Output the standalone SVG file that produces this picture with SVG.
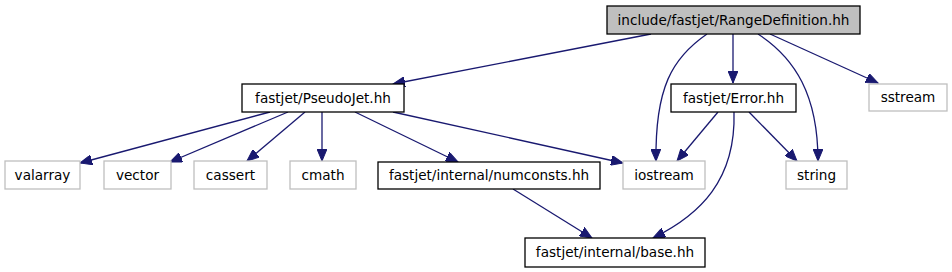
<svg xmlns="http://www.w3.org/2000/svg" width="952" height="272" viewBox="0 0 952 272">
<style>
text{font-family:"DejaVu Sans","Liberation Sans",sans-serif;font-size:13.6px;text-anchor:middle;fill:#000}
.doc{fill:#fff;stroke:#000;stroke-width:1.3}
.ext{fill:#fff;stroke:#bfbfbf;stroke-width:1.3}
.root{fill:#bfbfbf;stroke:#000;stroke-width:1.3}
.e{fill:none;stroke:#191970;stroke-width:1.3;marker-end:url(#arr)}
</style>
<defs>
<marker id="arr" markerUnits="userSpaceOnUse" markerWidth="13" markerHeight="10" refX="12" refY="5" orient="auto" viewBox="0 0 13 10">
<path d="M0,0 L12,5 L0,10 Z" fill="#191970" stroke="#191970" stroke-width="1"/>
</marker>
</defs>
<g id="connectors">
<path class="e" d="M651,34 L393,84"/>
<path class="e" d="M707,34 C672,58 655,88 656,161"/>
<path class="e" d="M733,34 L733,83"/>
<path class="e" d="M758,34 C795,58 818,95 818,161"/>
<path class="e" d="M770,34 L878,83"/>
<path class="e" d="M718,112 L677,161"/>
<path class="e" d="M749,112 L797,161"/>
<path class="e" d="M734,112 C736,180 700,215 653,238"/>
<path class="e" d="M270,112 L80,163"/>
<path class="e" d="M288,112 L170,162"/>
<path class="e" d="M305,112 L247,161"/>
<path class="e" d="M322,112 L322,161"/>
<path class="e" d="M355,112 L458,162"/>
<path class="e" d="M393,112 L623,163"/>
<path class="e" d="M513,189 L592,238"/>
</g>
<g id="node-root"><rect class="root" x="607" y="6" width="253" height="28"/><text x="733.5" y="24.5">include/fastjet/RangeDefinition.hh</text></g>
<g id="node-pseudojet"><rect class="doc" x="242" y="84" width="162" height="28"/><text x="323" y="102.5">fastjet/PseudoJet.hh</text></g>
<g id="node-error"><rect class="doc" x="671" y="84" width="125" height="28"/><text x="733.5" y="102.5">fastjet/Error.hh</text></g>
<g id="node-sstream"><rect class="ext" x="869" y="84" width="78" height="27"/><text x="908" y="102">sstream</text></g>
<g id="node-valarray"><rect class="ext" x="5" y="161" width="75" height="28"/><text x="42.5" y="179.5">valarray</text></g>
<g id="node-vector"><rect class="ext" x="104" y="161" width="67" height="28"/><text x="137.5" y="179.5">vector</text></g>
<g id="node-cassert"><rect class="ext" x="194" y="161" width="73" height="28"/><text x="230.5" y="179.5">cassert</text></g>
<g id="node-cmath"><rect class="ext" x="290" y="161" width="66" height="28"/><text x="323" y="179.5">cmath</text></g>
<g id="node-numconsts"><rect class="doc" x="378" y="162" width="222" height="27"/><text x="489" y="180">fastjet/internal/numconsts.hh</text></g>
<g id="node-iostream"><rect class="ext" x="623" y="161" width="82" height="28"/><text x="664" y="179.5">iostream</text></g>
<g id="node-string"><rect class="ext" x="786" y="161" width="61" height="28"/><text x="816.5" y="179.5">string</text></g>
<g id="node-base"><rect class="doc" x="525" y="238" width="180" height="29"/><text x="615" y="257">fastjet/internal/base.hh</text></g>
</svg>
